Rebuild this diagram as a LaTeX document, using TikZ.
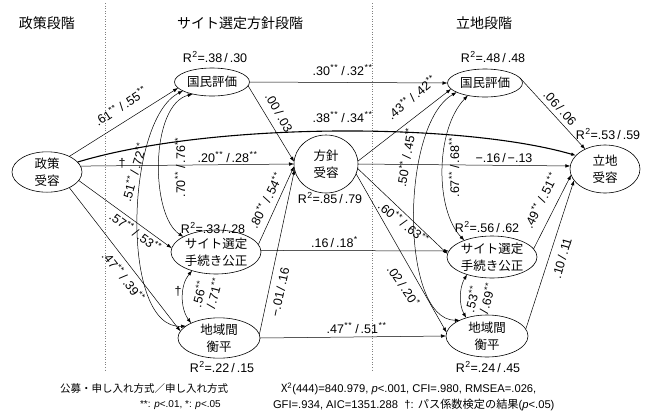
\documentclass[tikz,border=0pt]{standalone}
\usepackage{fontspec}
\setmainfont{Liberation Sans}
\newfontfamily\jp{Noto Sans CJK JP}
\usetikzlibrary{shapes.geometric,arrows.meta}
\newcommand\twostar{\textsuperscript{\kern0.4pt*\kern0.6pt*}\kern1pt}
\newcommand\onestar{\textsuperscript{\kern0.4pt*}\kern1pt}
\newcommand\myslash{\kern2pt/\kern2pt}
\newcommand\Rsq{R\textsuperscript{\kern0.5pt2}}
\begin{document}
\begin{tikzpicture}[x=1pt,y=-1pt,
  every node/.style={inner sep=0pt, outer sep=0pt},
  var/.style={draw, ellipse, inner sep=0pt, align=center, line width=0.6pt,
    font=\jp\fontsize{12.5}{17}\selectfont},
  lab/.style={font=\fontsize{12.5}{14}\selectfont},
  hdr/.style={font=\jp\fontsize{14}{16}\selectfont},
  foot/.style={font=\fontsize{10.5}{12}\selectfont, anchor=west},
  stat/.style={font=\fontsize{11.2}{13}\selectfont, anchor=west},
  footsmall/.style={font=\fontsize{10}{11}\selectfont, anchor=west},
  arr/.style={draw, line width=0.5pt, -{Latex[length=5pt,width=3.6pt]}},
  corr/.style={draw, line width=0.5pt, {Latex[length=5pt,width=3.6pt]}-{Latex[length=5pt,width=3.6pt]}},
  sep/.style={draw=gray, dotted, line width=0.6pt}
]
\useasboundingbox (0,0) rectangle (649,416);
\fill[white] (0,0) rectangle (649,416);
% headers
\node[hdr] (h1) at (47,23) {政策段階};
\node[hdr] (h2) at (240,23) {サイト選定方針段階};
\node[hdr] (h3) at (484,23) {立地段階};
\draw[sep] (105,3) -- (105,372);
\draw[sep] (372,3) -- (372,372);
% variables
\node[var, minimum width=70pt, minimum height=40pt] (P) at (47,172) {政策\\受容};
\node[var, minimum width=75pt, minimum height=28pt] (K1) at (212,82) {国民評価};
\node[var, minimum width=64pt, minimum height=58pt] (H) at (326,164) {方針\\受容};
\node[var, minimum width=90pt, minimum height=44pt] (S1) at (216,252) {サイト選定\\手続き公正};
\node[var, minimum width=82pt, minimum height=38pt] (C1) at (219,338) {地域間\\衡平};
\node[var, minimum width=75pt, minimum height=28pt] (K2) at (485,83) {国民評価};
\node[var, minimum width=70pt, minimum height=48pt] (L) at (605,169) {立地\\受容};
\node[var, minimum width=90pt, minimum height=42pt] (S2) at (492,257) {サイト選定\\手続き公正};
\node[var, minimum width=82pt, minimum height=42pt] (C2) at (487,336) {地域間\\衡平};
% R squared
\node[lab] (r1) at (215,57) {\Rsq=.38\myslash.30};
\node[lab] (r2) at (330,198) {\Rsq=.85\myslash.79};
\node[lab] (r3) at (213,228) {\Rsq=.33\myslash.28};
\node[lab] (r4) at (222,367) {\Rsq=.22\myslash.15};
\node[lab] (r5) at (493,57) {\Rsq=.48\myslash.48};
\node[lab] (r6) at (608,134) {\Rsq=.53\myslash.59};
\node[lab] (r7) at (487,227) {\Rsq=.56\myslash.62};
\node[lab] (r8) at (488,367) {\Rsq=.24\myslash.45};
% paths from policy acceptance
\draw[arr] (P.35) -- (K1.190);
\draw[arr] (P.10) -- (H.180);
\draw[arr, line width=1.1pt] (P.18) .. controls (210,122) and (460,122) .. (L.155);
\draw[arr] (P.345) -- (S1.175);
\draw[arr] (P.325) -- (C1.170);
% correlations middle column
\draw[corr] (K1.197) .. controls (125,120) and (120,330) .. (C1.160);
\draw[corr] (K1.212) .. controls (150,105) and (150,215) .. (S1.155);
\draw[corr] (S1.218) .. controls (180,285) and (180,308) .. (C1.152);
% middle to right
\draw[arr] (K1.east) -- (K2.180);
\draw[arr] (K1.-6) -- (H.176);
\draw[arr] (S1.10) -- (H.184);
\draw[arr] (C1.5) -- (H.190);
\draw[arr] (S1.2) -- (S2.172);
\draw[arr] (C1.east) -- (C2.west);
\draw[arr] (H.5) -- (K2.190);
\draw[arr] (H.0) -- (L.175);
\draw[arr] (H.-8) -- (S2.176);
\draw[arr] (H.-18) -- (C2.175);
% correlations right column
\draw[corr] (K2.198) .. controls (400,125) and (400,320) .. (C2.150);
\draw[corr] (K2.216) .. controls (435,130) and (435,210) .. (S2.149);
\draw[corr] (S2.215) .. controls (459,288) and (459,305) .. (C2.139);
% to location acceptance
\draw[arr] (K2.8) -- (L.135);
\draw[arr] (S2.11) -- (L.190);
\draw[arr] (C2.10) -- (L.200);
% path labels
\node[lab, rotate=33] (l1) at (121,106) {.61\twostar\myslash.55\twostar};
\node[lab] (l2) at (343,117) {.38\twostar\myslash.34\twostar};
\node[lab] (l3) at (228,157) {.20\twostar\myslash.28\twostar};
\node[lab] (d1) at (122,163) {†};
\node[lab, rotate=-36] (l4) at (136,232) {.57\twostar\myslash.53\twostar};
\node[lab, rotate=-52] (l5) at (124,277) {.47\twostar\myslash.39\twostar};
\node[lab, rotate=90] (l6) at (180,167) {.70\twostar\myslash.76\twostar};
\node[lab, rotate=74] (l7) at (134,172) {.51\twostar\myslash.72\twostar};
\node[lab, rotate=-60] (l8) at (279,113) {.00\myslash.03};
\node[lab, rotate=63] (l9) at (266,200) {.80\twostar\myslash.54\twostar};
\node[lab, rotate=78] (l10) at (280,292) {−.01\myslash.16};
\node[lab] (l11) at (343,70) {.30\twostar\myslash.32\twostar};
\node[lab] (l12) at (335,242) {.16\myslash.18\onestar};
\node[lab] (l13) at (357,328) {.47\twostar\myslash.51\twostar};
\node[lab, rotate=40] (l14) at (412,97) {.43\twostar\myslash.42\twostar};
\node[lab] (l15) at (504,158) {−.16\myslash−.13};
\node[lab, rotate=-39] (l16) at (404,223) {.60\twostar\myslash.63\twostar};
\node[lab, rotate=-56] (l17) at (404,286) {.02\myslash.20\onestar};
\node[lab, rotate=80] (l18) at (406,157) {.50\twostar\myslash.45\twostar};
\node[lab, rotate=90] (l19) at (454,167) {.67\twostar\myslash.68\twostar};
\node[lab, rotate=-48] (l20) at (560,108) {.06\myslash.06};
\node[lab, rotate=63] (l21) at (541,200) {.49\twostar\myslash.51\twostar};
\node[lab, rotate=74] (l22) at (562,258) {.10\myslash.11};
\node[lab, rotate=75, align=left] (l23) at (207,292) {.56\twostar\\\myslash.71\twostar};
\node[lab] (d2) at (178,291) {†};
\node[lab, rotate=75, align=left] (l24) at (480,297) {.53\twostar\\\myslash.69\twostar};
% footnotes
\node[foot] (f1) at (60,389) {\jp 公募・申し入れ方式／申し入れ方式};
\node[footsmall] (f2) at (140,405) {**: \textit{p}<.01, *: \textit{p}<.05};
\node[stat] (f3) at (281,389) {{\jp Χ}\textsuperscript{2}(444)=840.979, \textit{p}<.001, CFI=.980, RMSEA=.026,};
\node[stat] (f4) at (273,405) {GFI=.934, AIC=1351.288 \ †: {\jp パス係数検定の結果}(\textit{p}<.05)};
\end{tikzpicture}
\end{document}
